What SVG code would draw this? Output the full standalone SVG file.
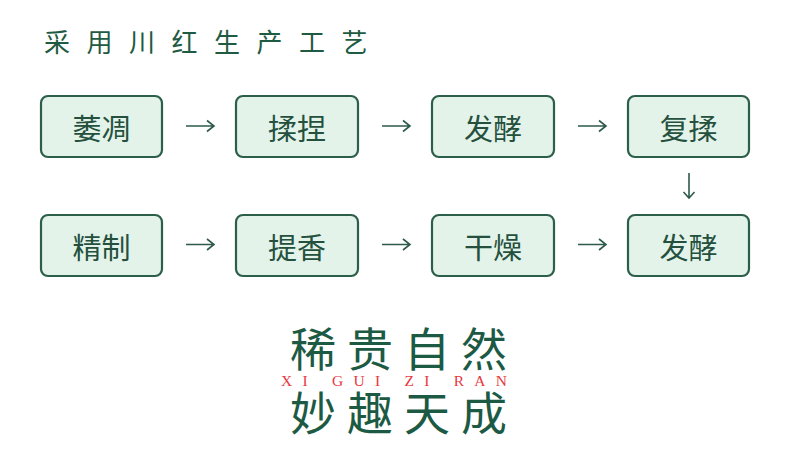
<svg xmlns="http://www.w3.org/2000/svg" width="790" height="450" viewBox="0 0 790 450">
<style>
.box rect{fill:#e3f3ea;stroke:#2b5f49;stroke-width:2.2}
.box text{font-family:"Noto Sans CJK SC","Noto Sans",sans-serif;font-size:29px;fill:#24503d;text-anchor:middle;dominant-baseline:central}
.arr{fill:none;stroke:#2e5a4b;stroke-width:1.6}
.title{font-family:"Noto Sans CJK SC",sans-serif;font-size:26px;font-weight:400;fill:#1f5a42;letter-spacing:16.5px}
.big{font-family:"Noto Sans CJK SC",sans-serif;font-size:46px;fill:#1c5a44;font-weight:400;letter-spacing:11px}
.pin{font-family:"Liberation Serif",serif;font-size:15.5px;fill:#e8393f}
</style>
<defs>
<path id="ra" d="M-14 0H14M7-5.5L14 0L7 5.5"/>
<path id="da" d="M0-12.5V12.5M-5.5 6.5L0 12.5L5.5 6.5"/>
</defs>
<rect width="790" height="450" fill="#ffffff"/>
<text class="title" x="44" y="52">采用川红生产工艺</text>
<g id="n1" class="box"><rect x="41" y="96" width="121" height="61" rx="7"/><text x="101.5" y="127">萎凋</text></g>
<g id="n2" class="box"><rect x="236" y="96" width="122" height="61" rx="7"/><text x="297" y="127">揉捏</text></g>
<g id="n3" class="box"><rect x="432" y="96" width="122" height="61" rx="7"/><text x="493" y="127">发酵</text></g>
<g id="n4" class="box"><rect x="628" y="96" width="121" height="61" rx="7"/><text x="688.5" y="127">复揉</text></g>
<g id="n5" class="box"><rect x="41" y="215" width="121" height="61" rx="7"/><text x="101.5" y="245.5">精制</text></g>
<g id="n6" class="box"><rect x="236" y="215" width="122" height="61" rx="7"/><text x="297" y="245.5">提香</text></g>
<g id="n7" class="box"><rect x="432" y="215" width="122" height="61" rx="7"/><text x="493" y="245.5">干燥</text></g>
<g id="n8" class="box"><rect x="628" y="215" width="121" height="61" rx="7"/><text x="688.5" y="245.5">发酵</text></g>
<g id="connectors" class="arr">
<use href="#ra" x="200" y="126"/>
<use href="#ra" x="396" y="126"/>
<use href="#ra" x="592" y="126"/>
<use href="#da" x="689" y="185.5"/>
<use href="#ra" x="200" y="244.5"/>
<use href="#ra" x="396" y="244.5"/>
<use href="#ra" x="592" y="244.5"/>
</g>
<text class="big" x="290" y="366">稀贵自然</text>
<text class="pin" x="281" y="386" textLength="226" lengthAdjust="spacing">XI GUI ZI RAN</text>
<text class="big" x="290" y="430">妙趣天成</text>
</svg>
